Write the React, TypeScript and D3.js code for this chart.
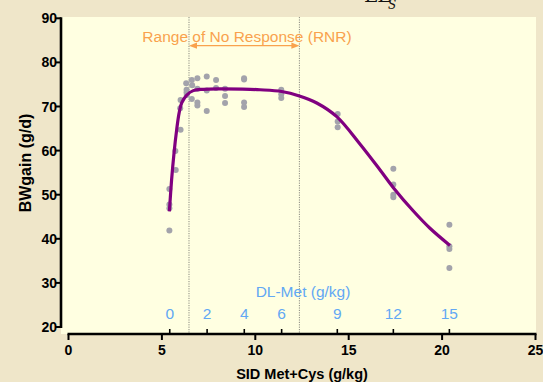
import React from 'react';
import * as d3 from 'd3';

// observed BW gain (g/d) vs SID Met+Cys (g/kg)
const pointSid = [
  5.40, 5.40, 5.40, 5.40,
  5.72, 5.74,
  6.00, 6.00, 5.98,
  6.30, 6.32, 6.32, 6.33,
  6.60, 6.62, 6.60,
  6.90, 6.90, 6.90, 6.90,
  7.40, 7.40, 7.40,
  7.90, 7.90,
  8.38, 8.38, 8.38,
  9.40, 9.40, 9.40, 9.40,
  11.39, 11.39, 11.39,
  14.41, 14.41, 14.41,
  17.39, 17.39, 17.39, 17.39,
  20.39, 20.39, 20.39, 20.39,
];
const pointGain = [
  51.3, 47.8, 46.9, 41.9,
  59.9, 55.6,
  64.7, 71.5, 69.6,
  75.3, 73.8, 73.2, 72.6,
  76.0, 74.8, 71.7,
  76.4, 74.0, 70.9, 70.2,
  76.8, 73.6, 69.0,
  76.0, 74.2,
  74.0, 72.4, 70.8,
  76.4, 76.1, 70.9, 69.9,
  73.8, 72.8, 71.9,
  68.3, 66.6, 65.3,
  55.9, 52.3, 50.0, 49.4,
  43.2, 38.3, 37.7, 33.4,
];

// fitted response curve
const fitSid = [5.40, 5.52, 5.65, 5.79, 5.92, 6.06, 6.33, 6.68, 7.22, 8.0, 9.72, 10.25, 11.41, 12.36, 13.29, 14.36, 15.6, 16.68, 17.39, 18.46, 19.35, 20.42];
const fitGain = [46.2, 53.4, 59.5, 64.7, 68.5, 70.8, 72.6, 73.6, 73.9, 74.0, 73.9, 73.8, 73.4, 72.4, 70.8, 67.7, 61.5, 55.6, 51.6, 46.3, 42.4, 38.5];

const xTicks = [0, 5, 10, 15, 20, 25];
const yTicks = [20, 30, 40, 50, 60, 70, 80, 90];

// secondary DL-Met scale, placed at SID positions
const dlMetLabels = ['0', '2', '4', '6', '9', '12', '15'];
const dlMetSid = [5.42, 7.42, 9.41, 11.41, 14.39, 17.39, 20.39];

const rnrBounds = [6.45, 12.36];

const FONT = 'Liberation Sans, Arial, sans-serif';

export default function App() {
  const width = 543;
  const height = 382;

  const x = d3.scaleLinear().domain([0, 25]).range([68.5, 535.5]);
  const y = d3.scaleLinear().domain([20, 90]).range([327, 18.3]);

  const fit = fitSid.map((s, i) => [s, fitGain[i]] as [number, number]);
  const line = d3.line<[number, number]>()
    .x(d => x(d[0]))
    .y(d => y(d[1]))
    .curve(d3.curveCatmullRom.alpha(0.5));

  const axisY = 334;
  const axisX = 61;
  const [r0, r1] = rnrBounds.map(v => x(v));

  return (
    <svg width={width} height={height} style={{ position: 'absolute', left: 0, top: 0 }}>
      <rect x={0} y={0} width={width} height={height} fill="#EFE6C9" />
      <rect x={axisX} y={17} width={536 - axisX} height={axisY - 17} fill="#FFFFE1" />

      {/* clipped title fragment at top */}
      <text x={364} y={2} fontFamily="DejaVu Serif, serif" fontSize={20} fill="#111">LL</text>
      <text x={388} y={9} fontFamily="DejaVu Serif, serif" fontStyle="italic" fontSize={12} fill="#111">S</text>

      {/* RNR dotted lines */}
      {rnrBounds.map((v, i) => (
        <line key={i} x1={x(v)} x2={x(v)} y1={17} y2={axisY} stroke="#8a8a80" strokeWidth={1} strokeDasharray="1.2,1.2" />
      ))}

      {/* RNR arrow */}
      <line x1={r0 + 6} x2={r1 - 6} y1={45.7} y2={45.7} stroke="#F9A24D" strokeWidth={1.3} />
      <path d={`M${r0},45.7 L${r0 + 8},42.6 L${r0 + 8},48.8 Z`} fill="#F9A24D" />
      <path d={`M${r1},45.7 L${r1 - 8},42.6 L${r1 - 8},48.8 Z`} fill="#F9A24D" />
      <text x={247} y={42} textAnchor="middle" fontFamily={FONT} fontSize={15.5} fill="#F9A24D">
        Range of No Response (RNR)
      </text>

      {/* data points */}
      {pointSid.map((s, i) => (
        <circle key={i} cx={x(s)} cy={y(pointGain[i])} r={3} fill="#A3A3AB" />
      ))}

      {/* fitted curve */}
      <path d={line(fit) || ''} fill="none" stroke="#800080" strokeWidth={3.2} />

      {/* DL-Met labels */}
      <text x={303} y={297} textAnchor="middle" fontFamily={FONT} fontSize={15.5} fill="#62A8F4">DL-Met (g/kg)</text>
      {dlMetLabels.map((l, i) => (
        <text key={l} x={x(dlMetSid[i])} y={319} textAnchor="middle" fontFamily={FONT} fontSize={15.5} fill="#62A8F4">{l}</text>
      ))}

      {/* y axis */}
      <line x1={axisX} x2={axisX} y1={y(90) - 1} y2={y(20) + 1} stroke="#000" strokeWidth={2.6} />
      {yTicks.map(t => (
        <g key={t}>
          <line x1={axisX - 6} x2={axisX} y1={y(t)} y2={y(t)} stroke="#000" strokeWidth={2} />
          <text x={axisX - 4} y={y(t) + 5} textAnchor="end" fontFamily={FONT} fontWeight="bold" fontSize={14} fill="#000">{t}</text>
        </g>
      ))}

      {/* x axis */}
      <line x1={x(0) - 1} x2={x(25) + 1} y1={axisY} y2={axisY} stroke="#000" strokeWidth={2.6} />
      {xTicks.map(t => (
        <g key={t}>
          <line x1={x(t)} x2={x(t)} y1={axisY} y2={axisY + 6} stroke="#000" strokeWidth={2} />
          <text x={x(t)} y={axisY + 21} textAnchor="middle" fontFamily={FONT} fontWeight="bold" fontSize={14} fill="#000">{t}</text>
        </g>
      ))}
      {dlMetSid.map((s, i) => (
        <line key={i} x1={x(s)} x2={x(s)} y1={axisY - 5} y2={axisY} stroke="#000" strokeWidth={1.6} />
      ))}

      <text x={302} y={379} textAnchor="middle" fontFamily={FONT} fontWeight="bold" fontSize={14.5} fill="#000">SID Met+Cys (g/kg)</text>
      <text transform={`translate(31,${163}) rotate(-90)`} textAnchor="middle" fontFamily={FONT} fontWeight="bold" fontSize={16} fill="#000">BWgain (g/d)</text>
    </svg>
  );
}
